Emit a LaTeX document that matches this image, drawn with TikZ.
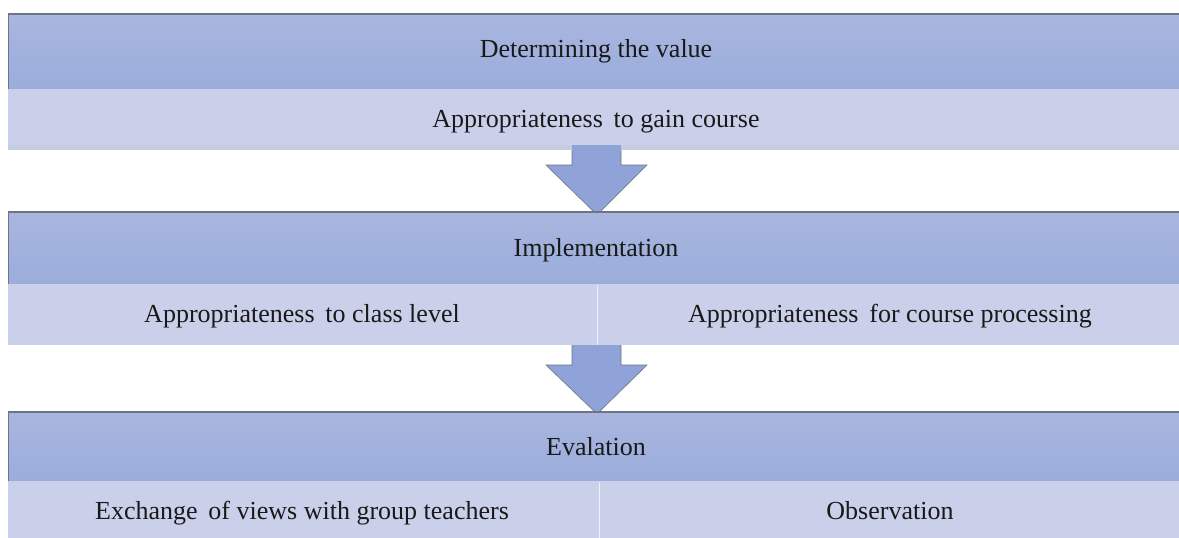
\documentclass[tikz,border=0pt]{standalone}
\usepackage{fontspec}
\setmainfont{Liberation Serif}
\newfontfamily\tnr{Liberation Serif}
\definecolor{hdtop}{HTML}{A9B6DF}
\definecolor{hdbot}{HTML}{9BADDB}
\definecolor{sub}{HTML}{CBD0EA}
\definecolor{subband}{HTML}{C6CBE4}
\definecolor{arr}{HTML}{8FA3D9}
\definecolor{edge}{HTML}{6E7482}
\tikzset{
  hdr/.style={top color=hdtop, bottom color=hdbot, draw=none},
  subbox/.style={fill=sub, draw=none},
  lbl/.style={font=\tnr\fontsize{26}{30}\selectfont, text=black!90, inner sep=0pt, anchor=base},
  arrowshape/.style={fill=arr, draw=edge, line width=0.6pt, line join=miter},
  divider/.style={draw=white!70!sub, line width=0.8pt}
}
\begin{document}
\begin{tikzpicture}[x=1pt,y=-1pt]
\useasboundingbox (0,0) rectangle (1179,538);
% block 1
\shade[hdr] (8,14) rectangle (1179,89);
\draw[edge, line width=1.2pt] (8,14) -- (1179,14);
\draw[edge, line width=0.8pt] (8,14) -- (8,89);
\fill[sub] (8,89) rectangle (1179,145);
\fill[subband] (8,145) rectangle (1179,150);
\node[lbl] (h1) at (596,57) {Determining the value};
\node[lbl] (s1) at (596,127) {Appropriateness\, to gain course};
% arrow 1
\draw[arrowshape] (572,150) -- (572,165) -- (546,165) -- (597,215) -- (647,165) -- (621,165) -- (621,150);
\fill[arr] (572.3,145) rectangle (620.7,151);
% block 2
\shade[hdr] (8,212) rectangle (1179,284);
\draw[edge, line width=1.2pt] (8,212) -- (1179,212);
\draw[edge, line width=0.8pt] (8,212) -- (8,284);
\fill[sub] (8,284) rectangle (1179,345);
\draw[divider] (597,285) -- (597,345);
\node[lbl] (h2) at (596,256) {Implementation};
\node[lbl] (s2a) at (302,322) {Appropriateness\, to class level};
\node[lbl] (s2b) at (890,322) {Appropriateness\, for course processing};
% arrow 2
\draw[arrowshape] (572,345) -- (572,365) -- (546,365) -- (597,414) -- (647,365) -- (621,365) -- (621,345);
% block 3
\shade[hdr] (8,412) rectangle (1179,481);
\draw[edge, line width=1.2pt] (8,412) -- (1179,412);
\draw[edge, line width=0.8pt] (8,412) -- (8,481);
\fill[sub] (8,481) rectangle (1179,538);
\draw[divider] (599,482) -- (599,538);
\node[lbl] (h3) at (596,455) {Evalation};
\node[lbl] (s3a) at (302,519) {Exchange\, of views with group teachers};
\node[lbl] (s3b) at (890,519) {Observation};
\end{tikzpicture}
\end{document}
